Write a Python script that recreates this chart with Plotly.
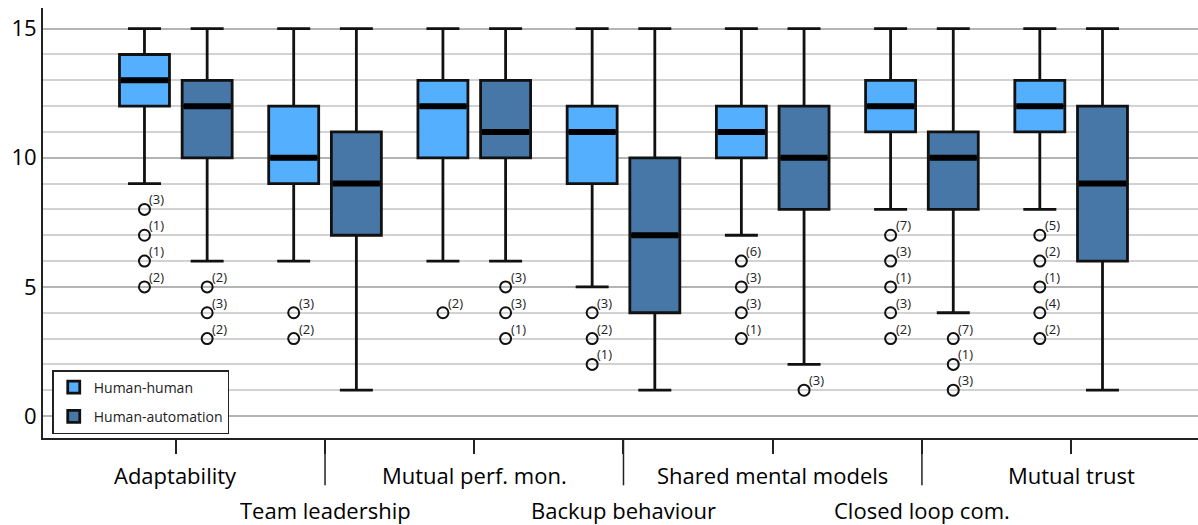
import plotly.graph_objects as go

categories = ["Adaptability", "Team leadership", "Mutual perf. mon.", "Backup behaviour",
              "Shared mental models", "Closed loop com.", "Mutual trust"]
series_names = ["Human-human", "Human-automation"]

hh_q1 = [12, 9, 10, 9, 10, 11, 11]
hh_med = [13, 10, 12, 11, 11, 12, 12]
hh_q3 = [14, 12, 13, 12, 12, 13, 13]
hh_low = [9, 6, 6, 5, 7, 8, 8]
hh_high = [15, 15, 15, 15, 15, 15, 15]
hh_out_vals = [[8, 7, 6, 5], [4, 3], [4], [4, 3, 2], [6, 5, 4, 3], [7, 6, 5, 4, 3], [7, 6, 5, 4, 3]]
hh_out_n = [[3, 1, 1, 2], [3, 2], [2], [3, 2, 1], [6, 3, 3, 1], [7, 3, 1, 3, 2], [5, 2, 1, 4, 2]]

ha_q1 = [10, 7, 10, 4, 8, 8, 6]
ha_med = [12, 9, 11, 7, 10, 10, 9]
ha_q3 = [13, 11, 13, 10, 12, 11, 12]
ha_low = [6, 1, 6, 1, 2, 4, 1]
ha_high = [15, 15, 15, 15, 15, 15, 15]
ha_out_vals = [[5, 4, 3], [], [5, 4, 3], [], [1], [3, 2, 1], []]
ha_out_n = [[2, 3, 2], [], [3, 3, 1], [], [3], [7, 1, 3], []]

colors = ["#54AFFE", "#4677A6"]
offset = 0.21
box_w = 0.335
FONT = "Open Sans"

fig = go.Figure()

series = [
    (hh_q1, hh_med, hh_q3, hh_low, hh_high, hh_out_vals, hh_out_n),
    (ha_q1, ha_med, ha_q3, ha_low, ha_high, ha_out_vals, ha_out_n),
]

for s, (q1, med, q3, lo, hi, ov, on) in enumerate(series):
    off = -offset if s == 0 else offset
    pos = [i + off for i in range(len(categories))]
    fig.add_trace(go.Box(
        x=pos, q1=q1, median=med, q3=q3, lowerfence=lo, upperfence=hi,
        width=box_w, fillcolor=colors[s], line=dict(color="#111111", width=2.8),
        whiskerwidth=0.66, boxpoints=False, name=series_names[s], showlegend=True,
        legendgroup=f"g{s}",
    ))
    # thick median lines
    mx, my = [], []
    for p, m in zip(pos, med):
        mx += [p - box_w / 2 + 0.01, p + box_w / 2 - 0.01, None]
        my += [m, m, None]
    fig.add_trace(go.Scatter(x=mx, y=my, mode="lines", line=dict(color="black", width=6),
                             showlegend=False, hoverinfo="skip"))
    # outliers
    ox, oy = [], []
    for p, vals, ns in zip(pos, ov, on):
        for v, n in zip(vals, ns):
            ox.append(p)
            oy.append(v)
            fig.add_annotation(x=p, y=v, xref="x", yref="y", text=f"({n})", showarrow=False,
                               xanchor="left", yanchor="bottom", xshift=3, yshift=-1,
                               font=dict(family=FONT, size=13, color="#222"))
    fig.add_trace(go.Scatter(
        x=ox, y=oy, mode="markers",
        marker=dict(symbol="circle-open", size=11, color="#111", line=dict(width=2)),
        showlegend=False, hoverinfo="skip",
    ))

# Category labels in staggered rows
for i, c in enumerate(categories):
    fig.add_annotation(x=i, y=0, xref="x", yref="paper", text=c, showarrow=False,
                       yanchor="middle", yshift=-37 if i % 2 == 0 else -72,
                       font=dict(family=FONT, size=22, color="black"))
    if i % 2 == 1:
        fig.add_shape(type="line", x0=i, x1=i, xref="x", y0=0, y1=-0.11, yref="paper",
                      line=dict(color="#222", width=1.5))

fig.update_layout(
    width=1198, height=525,
    margin=dict(l=43, r=0, t=8, b=87, autoexpand=False),
    plot_bgcolor="white", paper_bgcolor="white",
    boxmode="overlay",
    font=dict(family=FONT, color="black"),
    legend=dict(x=0.008, y=0.158, xanchor="left", yanchor="top",
                bordercolor="#222", borderwidth=1.5, bgcolor="white",
                font=dict(family=FONT, size=14, color="#222"),
                tracegroupgap=8),
    xaxis=dict(range=[-0.89, 6.85], showgrid=False, zeroline=False, automargin=False,
               showline=True, linecolor="#222", linewidth=2,
               tickvals=list(range(len(categories))), ticks="outside", ticklen=14,
               tickcolor="#222", tickwidth=1.5, showticklabels=False),
    yaxis=dict(range=[-0.85, 15.8], tickvals=[0, 5, 10, 15], ticks="", automargin=False,
               showline=True, linecolor="#222", linewidth=2, zeroline=False,
               showgrid=True, gridcolor="#b4b4b4", gridwidth=1.5,
               minor=dict(dtick=1, showgrid=True, gridcolor="#d2d2d2", gridwidth=1.5),
               tickfont=dict(family=FONT, size=22, color="black")),
)

fig.write_html("out.html", config={"displayModeBar": False},
               post_script="document.body.style.margin='0';document.body.style.overflow='hidden';")
